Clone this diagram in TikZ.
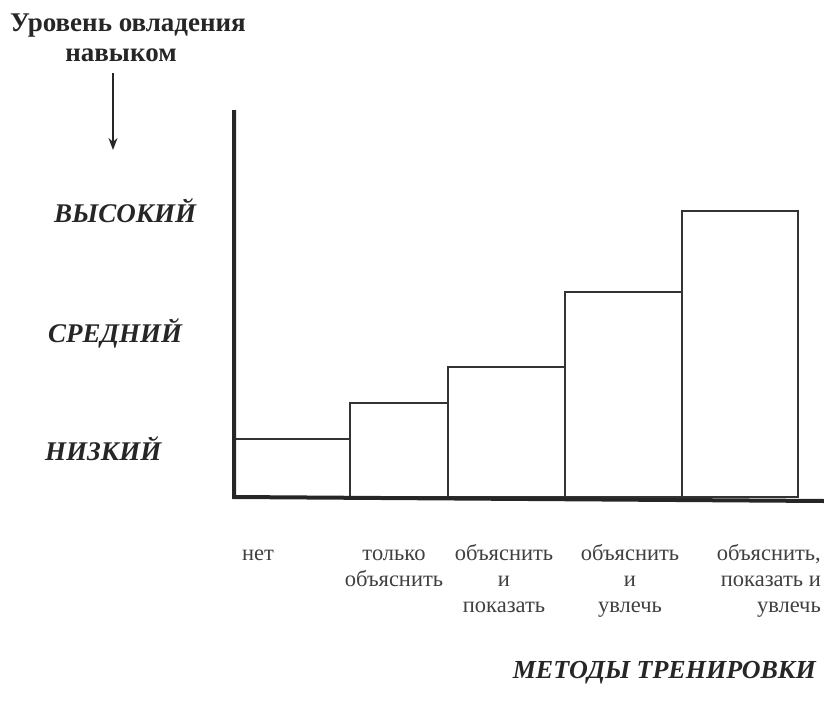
\documentclass[tikz,border=0pt]{standalone}
\usepackage{fontspec}
\setmainfont{Liberation Serif}
\usetikzlibrary{arrows.meta}
\tikzset{
  ylab/.style={font=\fontsize{27}{30}\selectfont\bfseries\itshape, anchor=base west, inner sep=0pt, text=black!85},
  xlab/.style={font=\fontsize{22.5}{26}\selectfont, align=center, anchor=north, inner sep=0pt, text=black!75},
  bar/.style={draw=black!80, line width=1.8pt},
  axis/.style={draw=black!85, line width=4pt}
}
\begin{document}
\begin{tikzpicture}[x=1pt,y=-1pt]
\useasboundingbox (0,0) rectangle (824,701);
% title
\node[font=\fontsize{27}{30}\selectfont\bfseries, anchor=base, inner sep=0pt, text=black!85] (title1) at (128,32) {Уровень овладения};
\node[font=\fontsize{27}{30}\selectfont\bfseries, anchor=base, inner sep=0pt, text=black!85] (title2) at (121,62) {навыком};
\coordinate (arrS) at (113,73);
\coordinate (arrE) at (113,150);
\draw[line width=1.3pt, black!85, -{Stealth[length=12pt,width=9pt]}] (arrS) -- (arrE);
% level labels
\node[ylab] (hi) at (54,222) {ВЫСОКИЙ};
\node[ylab] (mid) at (48,342) {СРЕДНИЙ};
\node[ylab] (lo) at (45,460) {НИЗКИЙ};
% bars
\draw[bar] (233,497) rectangle (350,439);
\draw[bar] (350,497) rectangle (448,403);
\draw[bar] (448,497) rectangle (565,367);
\draw[bar] (565,497) rectangle (682,292);
\draw[bar] (682,497) rectangle (798,211);
% axes
\coordinate (yTop) at (234,110);
\coordinate (origin) at (234,497);
\coordinate (xEnd) at (824,501);
\draw[axis] (yTop) -- (origin) -- (xEnd);
% method labels
\node[xlab] (m1) at (258,541.8) {\strut нет};
\node[xlab] (m2) at (394,541.8) {\strut только\\объяснить};
\node[xlab] (m3) at (504,541.8) {\strut объяснить\\и\\показать};
\node[xlab] (m4) at (630,541.8) {\strut объяснить\\и\\увлечь};
\node[xlab, align=right, anchor=north east] (m5) at (821,541.8) {\strut объяснить,\\показать и\\увлечь};
\node[font=\fontsize{26}{30}\selectfont\bfseries\itshape, anchor=base east, inner sep=0pt, text=black!85] (methods) at (816,678) {МЕТОДЫ ТРЕНИРОВКИ};
\end{tikzpicture}
\end{document}
